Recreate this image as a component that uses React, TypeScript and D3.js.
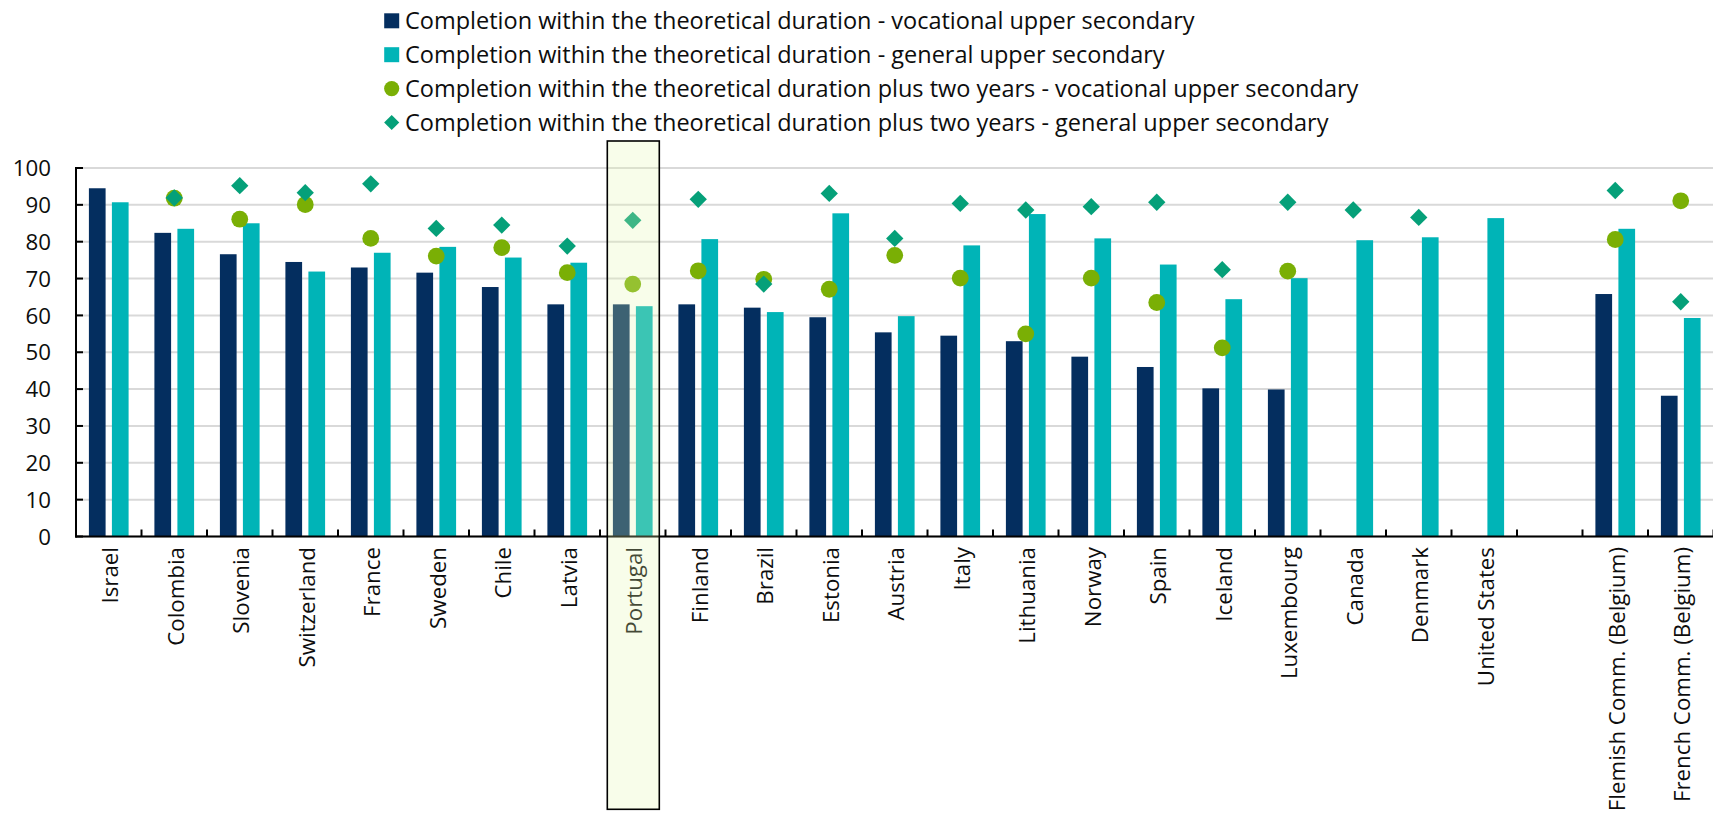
import React from "react";
import * as d3 from "d3";

const categories = [
  "Israel", "Colombia", "Slovenia", "Switzerland", "France", "Sweden", "Chile", "Latvia",
  "Portugal", "Finland", "Brazil", "Estonia", "Austria", "Italy", "Lithuania", "Norway",
  "Spain", "Iceland", "Luxembourg", "Canada", "Denmark", "United States", "",
  "Flemish Comm. (Belgium)", "French Comm. (Belgium)",
];

const vocational: (number | null)[] = [
  94.5, 82.4, 76.6, 74.5, 73.0, 71.6, 67.7, 63.0, 63.0, 63.0, 62.1, 59.5, 55.4, 54.5, 53.0,
  48.8, 46.0, 40.2, 39.9, null, null, null, null, 65.8, 38.2,
];
const general: (number | null)[] = [
  90.7, 83.5, 85.0, 71.9, 77.0, 78.6, 75.7, 74.3, 62.5, 80.7, 60.9, 87.7, 59.8, 79.0, 87.5,
  80.9, 73.8, 64.4, 70.1, 80.4, 81.2, 86.4, null, 83.5, 59.3,
];
const vocationalPlus2: (number | null)[] = [
  null, 91.8, 86.1, 90.1, 80.9, 76.1, 78.4, 71.6, 68.5, 72.1, 69.8, 67.1, 76.3, 70.1, 55.0,
  70.1, 63.5, 51.2, 72.0, null, null, null, null, 80.6, 91.1,
];
const generalPlus2: (number | null)[] = [
  null, 91.9, 95.2, 93.3, 95.7, 83.6, 84.5, 78.8, 85.8, 91.5, 68.5, 93.1, 80.9, 90.4, 88.6,
  89.5, 90.7, 72.4, 90.7, 88.6, 86.6, null, null, 93.9, 63.7,
];

const yTicks = [0, 10, 20, 30, 40, 50, 60, 70, 80, 90, 100];

const legendLabels = [
  "Completion within the theoretical duration - vocational upper secondary",
  "Completion within the theoretical duration - general upper secondary",
  "Completion within the theoretical duration plus two years - vocational upper secondary",
  "Completion within the theoretical duration plus two years - general upper secondary",
];

const highlight = "Portugal";

const NAVY = "#042e5f";
const TEAL = "#00b4b7";
const GREEN = "#7aaf05";
const DIAMOND = "#05a079";
const FONT = "'Open Sans', 'Liberation Sans', sans-serif";

export default function App() {
  const W = 1713;
  const H = 828;
  const left = 76;
  const right = 1713.5;
  const top = 168;
  const bottom = 536.5;

  const idx = categories.map((_, i) => String(i));
  const x = d3.scaleBand<string>().domain(idx).range([left, right]).padding(0);
  const x1 = d3
    .scaleBand<string>()
    .domain(["voc", "gen"])
    .range([0, x.bandwidth()])
    .paddingInner(0.274)
    .paddingOuter(0.561);
  const y = d3.scaleLinear().domain([0, 100]).range([bottom, top]);

  const diamond = d3.symbol().type(d3.symbolSquare).size(150)();
  const legendDiamond = d3.symbol().type(d3.symbolSquare).size(115)();

  const hi = categories.indexOf(highlight);
  const hx = (x(String(hi)) as number) + 7.3;

  return (
    <div>
      <style>{`body{margin:0;overflow:hidden}`}</style>
      <svg width={W} height={H} style={{ display: "block", fontFamily: FONT }}>
        <rect x={0} y={0} width={W} height={H} fill="#ffffff" />

        {/* Legend */}
        {legendLabels.map((lab, i) => {
          const cy = 20.8 + i * 33.9;
          const mx = 391.7;
          let marker;
          if (i === 0) marker = <rect x={mx - 7.5} y={cy - 7.5} width={15} height={15} fill={NAVY} />;
          else if (i === 1) marker = <rect x={mx - 7.5} y={cy - 7.5} width={15} height={15} fill={TEAL} />;
          else if (i === 2) marker = <circle cx={mx} cy={cy} r={7.6} fill={GREEN} />;
          else
            marker = (
              <path d={legendDiamond as string} transform={`translate(${mx},${cy}) rotate(45)`} fill={DIAMOND} />
            );
          return (
            <g key={i}>
              {marker}
              <text x={405} y={cy + 8.3} fontSize={23.5} fill="#0d0d0d">
                {lab}
              </text>
            </g>
          );
        })}

        {/* Gridlines */}
        {yTicks.map((t) => (
          <line key={t} x1={left} x2={right} y1={y(t)} y2={y(t)} stroke="#d9d9d9" strokeWidth={2} />
        ))}

        {/* Bars */}
        {categories.map((c, i) => {
          const bx = x(String(i)) as number;
          const v = vocational[i];
          const g = general[i];
          return (
            <g key={"b" + i}>
              {v != null && (
                <rect x={bx + (x1("voc") as number)} y={y(v)} width={x1.bandwidth()} height={bottom - y(v)} fill={NAVY} />
              )}
              {g != null && (
                <rect x={bx + (x1("gen") as number)} y={y(g)} width={x1.bandwidth()} height={bottom - y(g)} fill={TEAL} />
              )}
            </g>
          );
        })}

        {/* Markers */}
        {categories.map((c, i) => {
          const cx = (x(String(i)) as number) + x.bandwidth() / 2;
          const v = vocationalPlus2[i];
          const g = generalPlus2[i];
          return (
            <g key={"m" + i}>
              {v != null && <circle cx={cx} cy={y(v)} r={8.4} fill={GREEN} />}
              {g != null && (
                <path d={diamond as string} transform={`translate(${cx},${y(g)}) rotate(45)`} fill={DIAMOND} />
              )}
            </g>
          );
        })}

        {/* Axes */}
        <line x1={left} x2={left} y1={top - 1} y2={bottom + 1} stroke="#000" strokeWidth={2} />
        <line x1={left - 1} x2={right} y1={bottom} y2={bottom} stroke="#000" strokeWidth={2} />
        {yTicks.map((t) => (
          <g key={"yt" + t}>
            <line x1={left} x2={left + 7} y1={y(t)} y2={y(t)} stroke="#000" strokeWidth={2} />
            <text x={51} y={y(t) + 8.2} textAnchor="end" fontSize={22.3} fill="#0d0d0d">
              {t}
            </text>
          </g>
        ))}
        {categories.map((c, i) => (
          <line
            key={"xt" + i}
            x1={(x(String(i)) as number) + x.bandwidth()}
            x2={(x(String(i)) as number) + x.bandwidth()}
            y1={bottom}
            y2={bottom - 7}
            stroke="#000"
            strokeWidth={2}
          />
        ))}
        {categories.map((c, i) => {
          const cx = (x(String(i)) as number) + x.bandwidth() / 2;
          return (
            <text
              key={"xl" + i}
              transform={`translate(${cx + 9.5},547) rotate(-90)`}
              textAnchor="end"
              fontSize={22.3}
              fill="#0d0d0d"
            >
              {c}
            </text>
          );
        })}

        {/* Highlight box */}
        <rect
          x={hx}
          y={141}
          width={52}
          height={668.3}
          fill="rgba(228,247,175,0.26)"
          stroke="#000"
          strokeWidth={1.6}
        />
      </svg>
    </div>
  );
}
